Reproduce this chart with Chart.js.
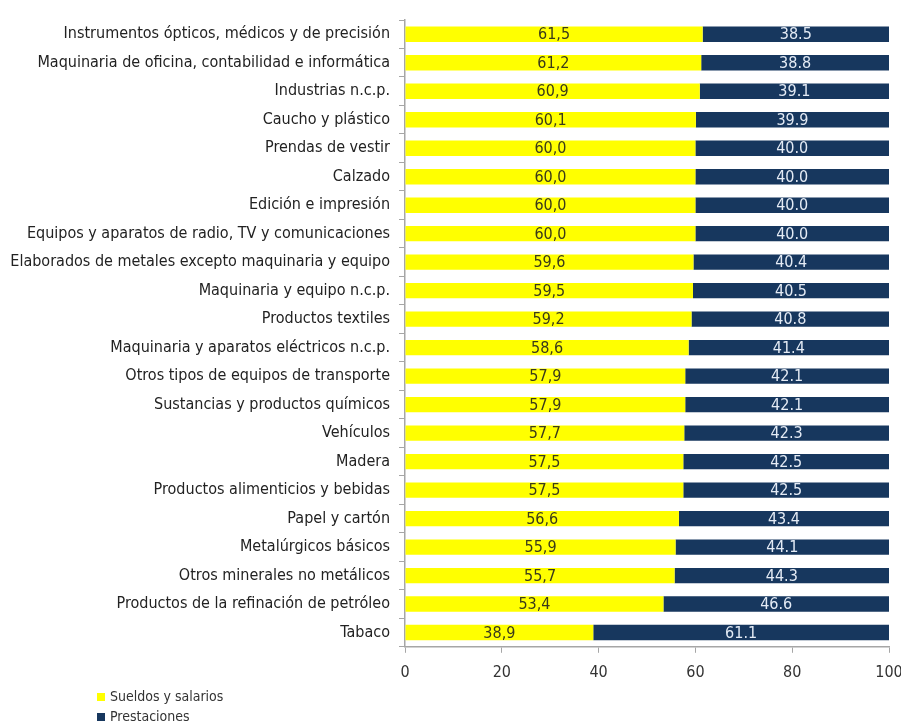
<!DOCTYPE html>
<html>
<head>
<meta charset="utf-8">
<script src="https://cdn.jsdelivr.net/npm/chart.js@4.4.1/dist/chart.umd.min.js"></script>
<style>
  html, body { margin: 0; padding: 0; background: #fff; }
  #wrap { width: 901px; height: 728px; }
</style>
</head>
<body>
<div id="wrap"><canvas id="chart" width="901" height="728"></canvas></div>
<script>
const FONT = "'Liberation Sans Narrow', 'DejaVu Sans Condensed', 'Liberation Sans', sans-serif";

// categories, top to bottom
const sectores = [
  'Instrumentos ópticos, médicos y de precisión',
  'Maquinaria de oficina, contabilidad e informática',
  'Industrias n.c.p.',
  'Caucho y plástico',
  'Prendas de vestir',
  'Calzado',
  'Edición e impresión',
  'Equipos y aparatos de radio, TV y comunicaciones',
  'Elaborados de metales excepto maquinaria y equipo',
  'Maquinaria y equipo n.c.p.',
  'Productos textiles',
  'Maquinaria y aparatos eléctricos n.c.p.',
  'Otros tipos de equipos de transporte',
  'Sustancias y productos químicos',
  'Vehículos',
  'Madera',
  'Productos alimenticios y bebidas',
  'Papel y cartón',
  'Metalúrgicos básicos',
  'Otros minerales no metálicos',
  'Productos de la refinación de petróleo',
  'Tabaco'
];

const sueldos = [61.5, 61.2, 60.9, 60.1, 60.0, 60.0, 60.0, 60.0, 59.6, 59.5, 59.2,
                 58.6, 57.9, 57.9, 57.7, 57.5, 57.5, 56.6, 55.9, 55.7, 53.4, 38.9];
const prestaciones = [38.5, 38.8, 39.1, 39.9, 40.0, 40.0, 40.0, 40.0, 40.4, 40.5, 40.8,
                      41.4, 42.1, 42.1, 42.3, 42.5, 42.5, 43.4, 44.1, 44.3, 46.6, 61.1];

const xTicks = [0, 20, 40, 60, 80, 100];

// value labels in the middle of each segment
const segmentLabels = {
  id: 'segmentLabels',
  afterDatasetsDraw(chart) {
    const ctx = chart.ctx;
    ctx.save();
    ctx.font = '16px ' + FONT;
    ctx.textAlign = 'center';
    ctx.textBaseline = 'middle';
    chart.data.datasets.forEach((ds, di) => {
      const meta = chart.getDatasetMeta(di);
      meta.data.forEach((bar, i) => {
        const v = ds.data[i];
        const txt = di === 0 ? v.toFixed(1).replace('.', ',') : v.toFixed(1);
        ctx.fillStyle = di === 0 ? '#3a3a1a' : '#e4ebf5';
        ctx.fillText(txt, (bar.x + bar.base) / 2, bar.y + 1);
      });
    });
    ctx.restore();
  }
};

// legend stacked at bottom left
const stackedLegend = {
  id: 'stackedLegend',
  afterDraw(chart) {
    const ctx = chart.ctx;
    ctx.save();
    ctx.font = '14px ' + FONT;
    ctx.textBaseline = 'middle';
    chart.data.datasets.forEach((ds, i) => {
      const y = 697 + i * 20;
      ctx.fillStyle = ds.backgroundColor;
      ctx.fillRect(97, y - 4, 8, 8);
      ctx.fillStyle = '#333';
      ctx.fillText(ds.label, 110, y);
    });
    ctx.restore();
  }
};

new Chart(document.getElementById('chart'), {
  type: 'bar',
  data: {
    labels: sectores,
    datasets: [
      { label: 'Sueldos y salarios', data: sueldos, backgroundColor: '#ffff00',
        categoryPercentage: 1, barPercentage: 0.54 },
      { label: 'Prestaciones', data: prestaciones, backgroundColor: '#17375e',
        categoryPercentage: 1, barPercentage: 0.54 }
    ]
  },
  options: {
    indexAxis: 'y',
    responsive: false,
    animation: false,
    layout: { padding: { top: 20, right: 12, bottom: 36, left: 0 } },
    plugins: {
      legend: { display: false },
      tooltip: { enabled: false }
    },
    scales: {
      x: {
        stacked: true,
        min: 0,
        max: 100,
        afterBuildTicks(scale) { scale.ticks = xTicks.map(v => ({ value: v })); },
        // let the "100" label run past the edge, as in the source
        afterFit(scale) { scale.paddingRight = 0; },
        grid: { drawOnChartArea: false, color: '#a6a6a6', tickLength: 6 },
        border: { color: '#a6a6a6', width: 1.5 },
        ticks: { color: '#333', font: { family: FONT, size: 16 }, padding: 10 }
      },
      y: {
        stacked: true,
        afterFit(scale) { scale.width = 405; },
        grid: { drawOnChartArea: false, offset: true, color: '#a6a6a6', tickLength: 6 },
        border: { color: '#a6a6a6', width: 1.5 },
        ticks: { color: '#222', font: { family: FONT, size: 16 }, padding: 9, autoSkip: false }
      }
    }
  },
  plugins: [segmentLabels, stackedLegend]
});
</script>
</body>
</html>
